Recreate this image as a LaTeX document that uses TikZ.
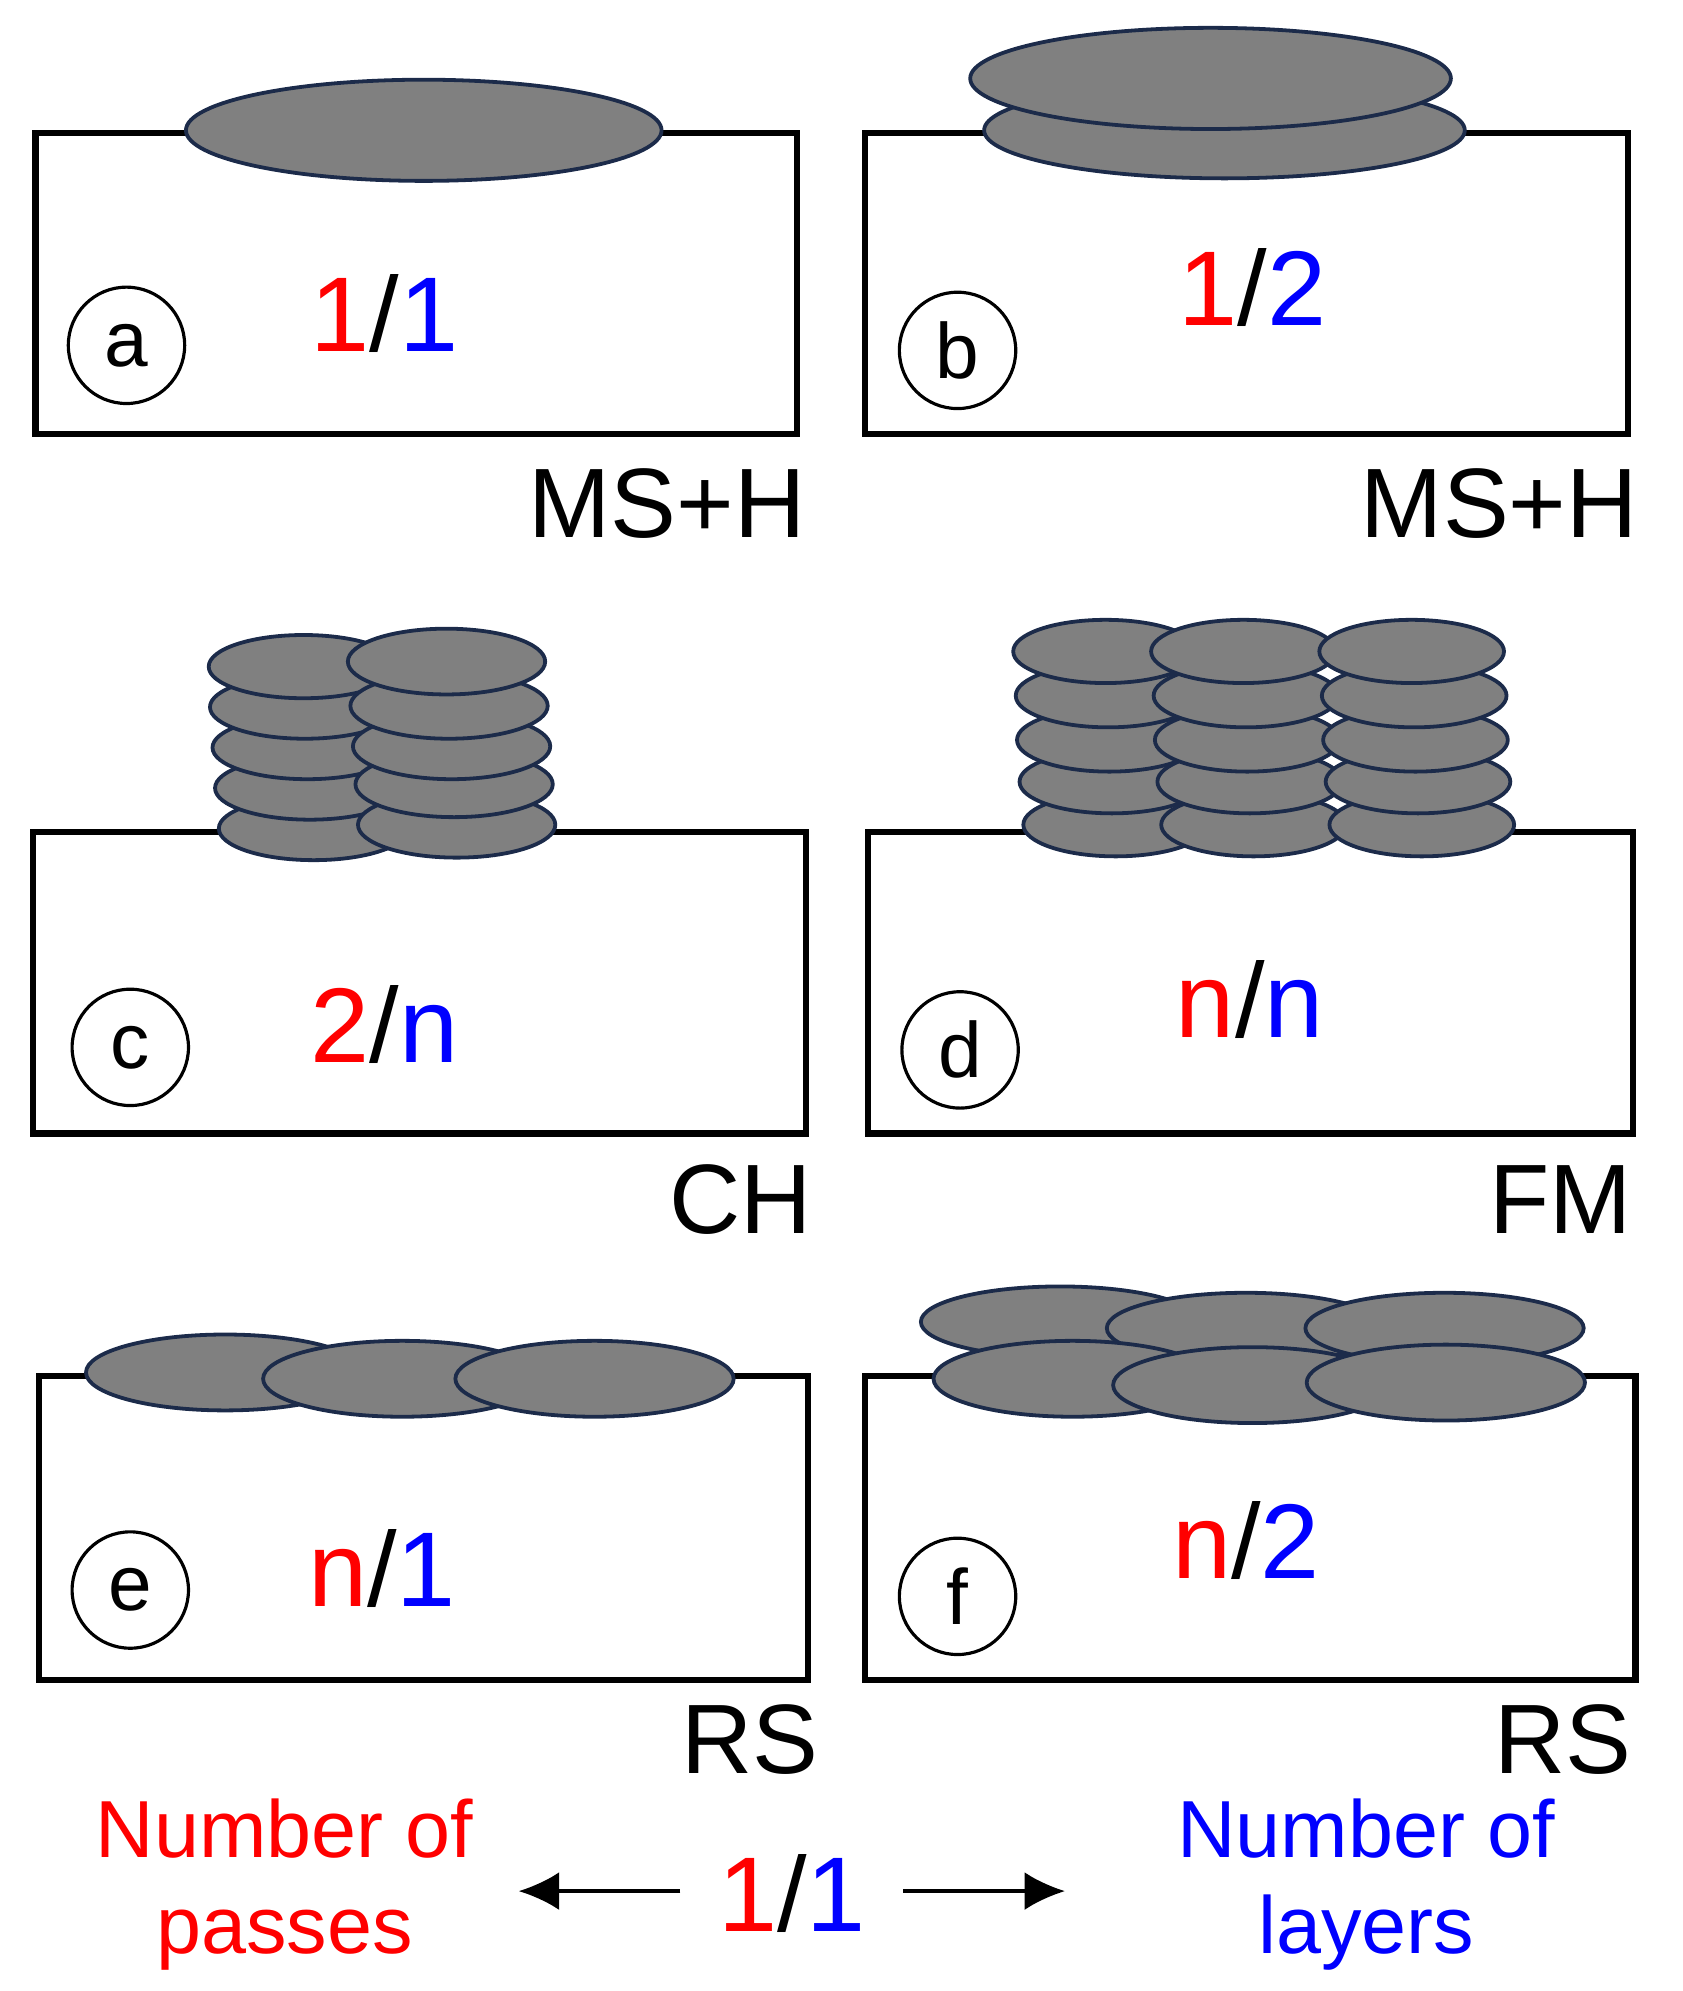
\documentclass[tikz,border=0pt]{standalone}
\usepackage{fontspec}
\setmainfont{Liberation Sans}
\usetikzlibrary{arrows.meta}
\definecolor{edge}{HTML}{1C2B4A}
\definecolor{rd}{HTML}{FF0000}
\definecolor{bl}{HTML}{0000FF}
\begin{document}
\begin{tikzpicture}[x=1pt,y=-1pt,
 box/.style={draw=black,line width=5pt},
 bead/.style={fill=black!50,draw=edge,line width=3pt},
 lbl/.style={circle,draw=black,line width=2.5pt,minimum size=92pt,inner sep=0pt,font=\fontsize{62}{62}\selectfont},
 ratio/.style={font=\fontsize{84}{84}\selectfont},
 proc/.style={anchor=base east,inner sep=0pt,font=\fontsize{78}{78}\selectfont},
 leg/.style={font=\fontsize{64}{76}\selectfont,align=center,inner sep=0pt},
 arr/.style={line width=3pt,-{Latex[length=32pt,width=30pt]}}]
\useasboundingbox (0,0) rectangle (1330,1574);
% a
\draw[box] (28,105) rectangle (630,343);
\draw[bead] (335,103) ellipse (188 and 40);
\node[lbl] (la) at (100,273) {a};
\node[ratio] (ra) at (304,248) {\textcolor{rd}{1}/\textcolor{bl}{1}};
\node[proc] (pa) at (637,425) {MS+H};
% b
\draw[box] (684,105) rectangle (1287,343);
\draw[bead] (968,103) ellipse (190 and 38);
\draw[bead] (957,62) ellipse (190 and 40);
\node[lbl] (lb) at (757,277) {b};
\node[ratio] (rb) at (990,227) {\textcolor{rd}{1}/\textcolor{bl}{2}};
\node[proc] (pb) at (1295,425) {MS+H};
% c
\draw[box] (26,658) rectangle (637,896);
\foreach \y/\dx in {655/8,623/5,591/3,559/1,527/0}{\draw[bead] (240+\dx,\y) ellipse (75 and 25);}
\foreach \y/\dx in {652/8,620/6,590/4,558/2,523/0}{\draw[bead] (353+\dx,\y) ellipse (78 and 26);}
\node[lbl] (lc) at (103,828) {c};
\node[ratio] (rc) at (304,810) {\textcolor{rd}{2}/\textcolor{bl}{n}};
\node[proc] (pc) at (642,975) {CH};
% d
\draw[box] (686,658) rectangle (1291,896);
\foreach \cx in {878,987,1120}{
 \foreach \y/\dx in {652/8,618/5,585/3,550/2,515/0}{\draw[bead] (\cx-4+\dx,\y) ellipse (73 and 25);}}
\node[lbl] (ld) at (759,830) {d};
\node[ratio] (rdd) at (988,790) {\textcolor{rd}{n}/\textcolor{bl}{n}};
\node[proc] (pd) at (1290,975) {FM};
% e
\draw[box] (31,1088) rectangle (639,1328);
\foreach \cx/\cy in {178/1085,318/1090,470/1090}{\draw[bead] (\cx,\cy) ellipse (110 and 30);}
\node[lbl] (le) at (103,1257) {e};
\node[ratio] (re) at (302,1240) {\textcolor{rd}{n}/\textcolor{bl}{1}};
\node[proc] (pe) at (647,1402) {RS};
% f
\draw[box] (684,1088) rectangle (1293,1328);
\foreach \cx/\cy in {838/1045,985/1050,1142/1050}{\draw[bead] (\cx,\cy) ellipse (110 and 28);}
\foreach \cx/\cy in {848/1090,990/1095,1143/1093}{\draw[bead] (\cx,\cy) ellipse (110 and 30);}
\node[lbl] (lf) at (757,1262) {f};
\node[ratio] (rf) at (985,1218) {\textcolor{rd}{n}/\textcolor{bl}{2}};
\node[proc] (pf) at (1290,1402) {RS};
% legend
\node[leg,text=rd] (np) at (225,1490) {Number of\\passes};
\node[leg,text=bl] (nl) at (1080,1490) {Number of\\layers};
\node[ratio,minimum width=176pt] (r0) at (626,1497) {\textcolor{rd}{1}/\textcolor{bl}{1}};
\coordinate (a1) at (410,1495);
\coordinate (a2) at (842,1495);
\draw[arr] (r0.west |- a1) -- (a1);
\draw[arr] (r0.east |- a2) -- (a2);
\end{tikzpicture}
\end{document}
